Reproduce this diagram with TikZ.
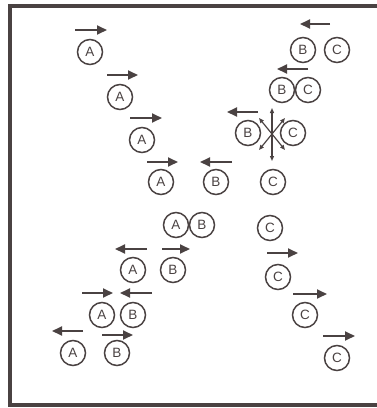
\documentclass[tikz,border=0pt]{standalone}
\usepackage{fontspec}
\setsansfont{Liberation Sans}
\usetikzlibrary{arrows.meta}
\definecolor{ink}{RGB}{74,66,66}

\begin{document}
\begin{tikzpicture}[x=1pt, y=-1pt, every node/.style={font=\sffamily\fontsize{13.5}{13.5}\selectfont},
	>={Triangle[length=10pt,width=9pt]},
	ball/.style={circle, draw=ink, line width=1.5pt, minimum size=25pt, inner sep=0pt, text=ink},
	mv/.style={->, draw=ink, line width=1.8pt},
	burst/.style={<->, draw=ink, line width=1.2pt, >={Triangle[length=5pt,width=4pt]}}]
	\useasboundingbox (0,0) rectangle (377,408);
	\draw[ink, line width=4pt] (385,6) -- (9.5,6) -- (9.5,405) -- (385,405);
	% car A
	\node[ball] (a1) at (90,52) {A};
	\node[ball] (a2) at (120,97) {A};
	\node[ball] (a3) at (142,140) {A};
	\node[ball] (a4) at (161,182) {A};
	\node[ball] (a5) at (176,225) {A};
	\node[ball] (a6) at (133,270) {A};
	\node[ball] (a7) at (102,315) {A};
	\node[ball] (a8) at (73,353) {A};
	% car B
	\node[ball] (b1) at (303,50) {B};
	\node[ball] (b2) at (282,90) {B};
	\node[ball] (b3) at (248,133) {B};
	\node[ball] (b4) at (216,182) {B};
	\node[ball] (b5) at (202,225) {B};
	\node[ball] (b6) at (173,270) {B};
	\node[ball] (b7) at (133,315) {B};
	\node[ball] (b8) at (117,353) {B};
	% car C
	\node[ball] (c1) at (337,50) {C};
	\node[ball] (c2) at (308,90) {C};
	\node[ball] (c3) at (293,133) {C};
	\node[ball] (c4) at (273,182) {C};
	\node[ball] (c5) at (270,228) {C};
	\node[ball] (c6) at (278,277) {C};
	\node[ball] (c7) at (305,315) {C};
	\node[ball] (c8) at (337,358) {C};
	% velocities
	\draw[mv] (75,30) -- (107,30);
	\draw[mv] (107,75) -- (138,75);
	\draw[mv] (130,118) -- (162,118);
	\draw[mv] (147,162) -- (178,162);
	\draw[mv] (330,24) -- (300,24);
	\draw[mv] (308,69) -- (277,69);
	\draw[mv] (258,112) -- (227,112);
	\draw[mv] (232,162) -- (200,162);
	\draw[mv] (147,249) -- (115,249);
	\draw[mv] (162,249) -- (190,249);
	\draw[mv] (82,293) -- (113,293);
	\draw[mv] (152,293) -- (120,293);
	\draw[mv] (83,331) -- (52,331);
	\draw[mv] (102,335) -- (133,335);
	\draw[mv] (267,253) -- (298,253);
	\draw[mv] (293,294) -- (327,294);
	\draw[mv] (323,336) -- (355,336);
	% collision
	\draw[burst] (272,108) -- (272,161);
	\draw[burst] (259,118) -- (285,150);
	\draw[burst] (285,118) -- (259,150);
\end{tikzpicture}
\end{document}
